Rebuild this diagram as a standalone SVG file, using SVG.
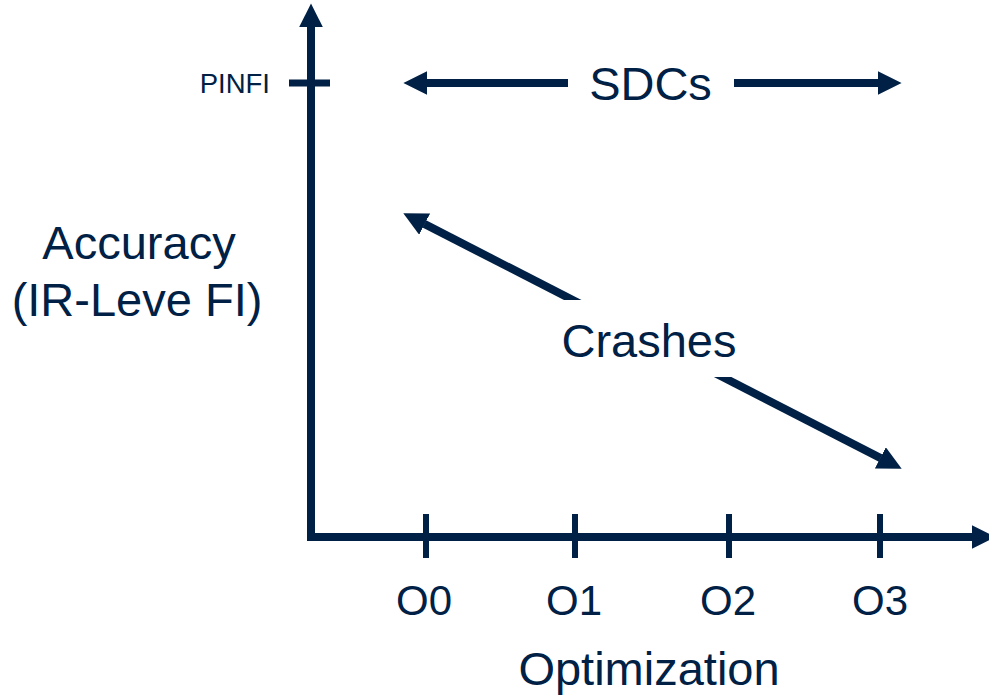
<svg xmlns="http://www.w3.org/2000/svg" width="989" height="697" viewBox="0 0 989 697">
  <style>
    .ln { stroke: #002145; fill: none; stroke-width: 8; }
    .tk { stroke: #002145; stroke-width: 6; }
    .t { font-family: "Liberation Sans", Arial, sans-serif; fill: #002145; }
    .big { font-size: 47px; }
    .mid { font-size: 42px; }
    .sm { font-size: 27.5px; }
  </style>
  <defs>
    <marker id="ah" viewBox="0 0 3 3" markerWidth="3" markerHeight="3" refX="0.05" refY="1.5" orient="auto-start-reverse">
      <path d="M0,0 L3,1.5 L0,3 z" fill="#002145"/>
    </marker>
  </defs>
  <rect width="989" height="697" fill="#ffffff"/>

  <g id="axes">
    <path class="ln" d="M311,27 V537 H972" stroke-linejoin="miter" marker-start="url(#ah)" marker-end="url(#ah)"/>
    <line class="tk" x1="289" y1="83" x2="330" y2="83" style="stroke-width:7"/>
    <line class="tk" x1="426" y1="514" x2="426" y2="558"/>
    <line class="tk" x1="575" y1="514" x2="575" y2="558"/>
    <line class="tk" x1="729" y1="514" x2="729" y2="558"/>
    <line class="tk" x1="880" y1="514" x2="880" y2="558"/>
  </g>

  <g id="connectors">
    <line class="ln" x1="427" y1="83" x2="878" y2="83" marker-start="url(#ah)" marker-end="url(#ah)"/>
    <line class="ln" x1="424.3" y1="223.9" x2="880.7" y2="458.1" marker-start="url(#ah)" marker-end="url(#ah)"/>
  </g>

  <g id="sdcs">
    <rect x="568" y="50" width="166" height="66" fill="#ffffff"/>
    <text class="t big" x="650.5" y="100" text-anchor="middle">SDCs</text>
  </g>
  <g id="crashes">
    <rect x="540" y="300" width="220" height="77" fill="#ffffff"/>
    <text class="t big" x="649" y="357" text-anchor="middle">Crashes</text>
  </g>
  <g id="pinfi">
    <text class="t sm" x="270" y="93" text-anchor="end">PINFI</text>
  </g>
  <g id="ylabel">
    <text class="t big" x="139" y="259" text-anchor="middle">Accuracy</text>
    <text class="t big" x="137" y="316" text-anchor="middle">(IR-Leve FI)</text>
  </g>
  <g id="xticks">
    <text class="t mid" x="424" y="615" text-anchor="middle">O0</text>
    <text class="t mid" x="574" y="615" text-anchor="middle">O1</text>
    <text class="t mid" x="728" y="615" text-anchor="middle">O2</text>
    <text class="t mid" x="880" y="615" text-anchor="middle">O3</text>
  </g>
  <g id="xlabel">
    <text class="t big" x="649" y="685" text-anchor="middle">Optimization</text>
  </g>
</svg>
